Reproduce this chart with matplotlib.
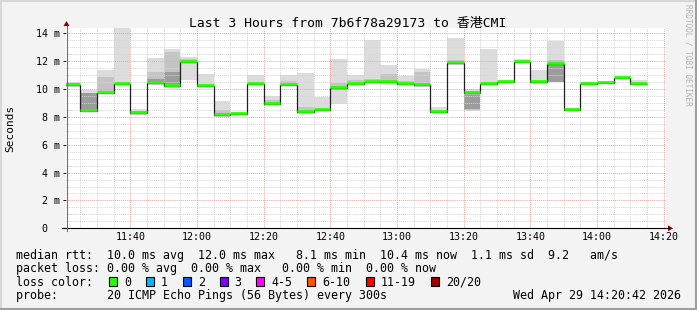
import matplotlib
matplotlib.use("Agg")
import matplotlib.pyplot as plt
import matplotlib.transforms as mtransforms
from matplotlib.patches import Rectangle, Polygon
import numpy as np

plt.rcParams['font.family'] = ['DejaVu Sans Mono', 'Noto Sans CJK SC']

# ---------------- data ----------------
title = "Last 3 Hours from 7b6f78a29173 to 香港CMI"
window_start = "11:20:42"
window_end = "14:20:42"
bar_starts = ["11:20", "11:25", "11:30", "11:35", "11:40", "11:45", "11:50", "11:55",
              "12:00", "12:05", "12:10", "12:15", "12:20", "12:25", "12:30", "12:35",
              "12:40", "12:45", "12:50", "12:55", "13:00", "13:05", "13:10", "13:15",
              "13:20", "13:25", "13:30", "13:35", "13:40", "13:45", "13:50", "13:55",
              "14:00", "14:05", "14:10"]
step_minutes = 5

# median rtt per 5-minute step (ms)
median = [10.27, 8.45, 9.71, 10.34, 8.28, 10.46, 10.19, 11.94, 10.19, 8.11,
          8.18, 10.36, 8.92, 10.27, 8.33, 8.49, 10.05, 10.36, 10.53, 10.48,
          10.36, 10.27, 8.35, 11.87, 9.71, 10.36, 10.48, 11.94, 10.48, 11.82,
          8.49, 10.36, 10.41, 10.77, 10.36]
# smoke: outer ping range (ms)
outer_lo = [10.15, 8.40, 9.65, 10.30, 8.16, 10.30, 10.10, 10.67, 10.15, 7.99,
            8.15, 10.30, 8.83, 10.25, 8.23, 8.45, 8.95, 10.30, 10.46, 10.30,
            10.30, 10.15, 8.30, 11.75, 8.42, 10.30, 10.45, 11.90, 10.39, 10.50,
            8.40, 10.35, 10.38, 10.70, 10.36]
outer_hi = [10.50, 9.90, 11.34, 14.50, 8.54, 12.25, 12.85, 12.30, 11.10, 9.12,
            8.25, 10.98, 9.48, 10.98, 11.12, 9.43, 12.15, 11.03, 13.50, 11.70,
            10.93, 11.46, 8.71, 13.69, 10.00, 12.85, 10.55, 12.18, 11.36, 13.45,
            8.64, 10.50, 10.45, 10.82, 10.68]
# smoke: middle ping range (ms)
mid_lo = [10.20, 8.42, 9.70, 10.32, 8.20, 10.40, 10.20, 11.90, 10.19, 8.05,
          8.18, 10.35, 8.88, 10.27, 8.30, 8.48, 9.95, 10.35, 10.50, 10.40,
          10.35, 10.20, 8.33, 11.80, 8.50, 10.35, 10.47, 11.93, 10.42, 10.50,
          8.45, 10.36, 10.40, 10.75, 10.36]
mid_hi = [10.40, 9.75, 10.86, 10.45, 8.45, 11.20, 12.66, 12.15, 10.30, 8.47,
          8.22, 10.45, 9.19, 10.55, 8.72, 8.60, 10.45, 10.65, 10.70, 11.10,
          10.60, 11.25, 8.45, 12.10, 9.70, 10.45, 10.50, 12.00, 10.60, 12.06,
          8.55, 10.40, 10.43, 10.79, 10.45]
# smoke: inner ping range (ms)
inner_lo = [10.27, 8.45, 9.71, 10.34, 8.28, 10.45, 10.27, 11.94, 10.19, 8.11,
            8.18, 10.36, 8.92, 10.27, 8.33, 8.49, 10.05, 10.36, 10.53, 10.48,
            10.36, 10.27, 8.35, 11.87, 8.60, 10.36, 10.48, 11.94, 10.48, 10.50,
            8.49, 10.36, 10.41, 10.77, 10.36]
inner_hi = [10.27, 9.71, 9.71, 10.34, 8.28, 10.75, 11.23, 11.94, 10.19, 8.11,
            8.18, 10.36, 8.92, 10.27, 8.33, 8.49, 10.05, 10.36, 10.53, 10.48,
            10.36, 10.27, 8.35, 11.87, 9.60, 10.36, 10.48, 11.94, 10.48, 11.82,
            8.49, 10.36, 10.41, 10.77, 10.36]

x_ticks = ["11:40", "12:00", "12:20", "12:40", "13:00", "13:20", "13:40", "14:00", "14:20"]
y_ticks = [0, 2, 4, 6, 8, 10, 12, 14]
y_tick_labels = ["0", "2 m", "4 m", "6 m", "8 m", "10 m", "12 m", "14 m"]
y_max = 14.36

loss_labels = ["0", "1", "2", "3", "4-5", "6-10", "11-19", "20/20"]
loss_colors = ["#26ff00", "#00b8ff", "#0059ff", "#7e00ff", "#ff00ff", "#ff5500", "#ff0000", "#a00000"]

legend_rtt = "median rtt:  10.0 ms avg  12.0 ms max   8.1 ms min  10.4 ms now  1.1 ms sd  9.2   am/s"
legend_loss = "packet loss: 0.00 % avg  0.00 % max   0.00 % min  0.00 % now"
legend_color = "loss color:"
legend_probe = "probe:       20 ICMP Echo Pings (56 Bytes) every 300s"
stamp = "Wed Apr 29 14:20:42 2026"
watermark = "RRDTOOL / TOBI OETIKER"


def to_min(s):
    p = [int(v) for v in s.split(":")]
    return p[0] * 60 + p[1] + (p[2] / 60 if len(p) > 2 else 0)


# ---------------- figure ----------------
W, H = 697, 310
fig = plt.figure(figsize=(W / 100, H / 100), dpi=100, facecolor="#f3f3f3")
ax = fig.add_axes([66 / W, 1 - 228.3 / H, 600 / W, 200 / H])
ax.set_facecolor("white")

xs = np.array([to_min(s) for s in bar_starts])
med = np.array(median)

ax.bar(xs, np.array(outer_hi) - np.array(outer_lo), bottom=outer_lo, width=step_minutes,
       align="edge", color="#dcdcdc", linewidth=0, zorder=1)
ax.bar(xs, np.array(mid_hi) - np.array(mid_lo), bottom=mid_lo, width=step_minutes,
       align="edge", color="#c4c4c4", linewidth=0, zorder=1.1)
ax.bar(xs, np.array(inner_hi) - np.array(inner_lo), bottom=inner_lo, width=step_minutes,
       align="edge", color="#9c9c9c", linewidth=0, zorder=1.2)

# grid (drawn over the smoke, like rrdtool)
x0, x1 = to_min(window_start), to_min(window_end)
major_x = [to_min(t) for t in x_ticks]
for v in np.arange(to_min("11:25"), x1, 5):
    if min(abs(v - m) for m in major_x) > 0.01:
        ax.axvline(v, color="#d4d4d4", lw=0.7, ls=(0, (1, 1)), zorder=1.5)
for v in np.arange(0.5, y_max, 0.5):
    if min(abs(v - m) for m in y_ticks) > 0.01:
        ax.axhline(v, color="#d4d4d4", lw=0.7, ls=(0, (1, 1)), zorder=1.5)
for v in major_x:
    ax.axvline(v, color="#f2a0a0", lw=0.7, ls=(0, (1, 1)), zorder=1.6)
for v in y_ticks[1:]:
    ax.axhline(v, color="#f2a0a0", lw=0.7, ls=(0, (1, 1)), zorder=1.6)

edges = np.append(xs, xs[-1] + step_minutes)
ax.stairs(med, edges, baseline=None, color="#202020", lw=0.9, zorder=3)
up = mtransforms.offset_copy(ax.transData, fig=fig, x=0, y=1, units="dots")
ax.hlines(med, xs, xs + step_minutes, colors=loss_colors[0], lw=2.0, zorder=4, transform=up)

ax.set_xlim(x0, x1)
ax.set_ylim(0, y_max)
for s in ax.spines.values():
    s.set_visible(False)
ax.set_xticks(major_x, x_ticks)
ax.set_yticks(y_ticks, [""] * len(y_ticks))
ax.tick_params(axis="x", length=0, pad=2.6, labelsize=7.2, colors="black")
ax.tick_params(axis="y", length=2, width=0.7, colors="black")

# y tick labels: rrdtool pads labels to a common width (monospace)
char_w = 0.6021 * 7.2 * 100 / 72
blend = mtransforms.blended_transform_factory(ax.transAxes, ax.transData)
for v, lab in zip(y_ticks, y_tick_labels):
    s = lab.ljust(3)
    tr = mtransforms.offset_copy(blend, fig=fig, x=-6 - len(s) * char_w, y=0, units="dots")
    ax.text(0, v, s, transform=tr, ha="left", va="center_baseline", fontsize=7.2, clip_on=False)

# ---------------- overlay for axes arrows & legend ----------------
ov = fig.add_axes([0, 0, 1, 1], zorder=10)
ov.set_xlim(0, W)
ov.set_ylim(H, 0)
ov.axis("off")

# axis lines with arrows
ov.plot([62, 668], [228.3, 228.3], color="black", lw=0.8)
ov.add_patch(Polygon([[668, 225.3], [673, 228.3], [668, 231.3]], closed=True, color="#8b0000", lw=0))
ov.plot([66.5, 66.5], [231, 26], color="#707070", lw=0.8)
ov.add_patch(Polygon([[63.5, 26], [66.5, 21], [69.5, 26]], closed=True, color="#8b0000", lw=0))

# frame
ov.plot([0, W], [1, 1], color="#d8d8d8", lw=1.5)
ov.plot([1, 1], [0, H], color="#d8d8d8", lw=1.5)
ov.plot([0, W], [H - 1, H - 1], color="#9e9e9e", lw=1.5)
ov.plot([W - 1, W - 1], [0, H], color="#9e9e9e", lw=1.5)

ov.text(348, 26.7, title, ha="center", va="baseline", fontsize=9.4, color="black")
ov.text(688, 4, watermark, rotation=270, ha="center", va="top", fontsize=5.6, color="#b4b4b4")
ov.text(10.5, 128, "Seconds", rotation=90, ha="center", va="center", fontsize=8.0, color="black")

fs = 8.37
ov.text(16, 258.5, legend_rtt, ha="left", va="baseline", fontsize=fs)
ov.text(16, 272, legend_loss, ha="left", va="baseline", fontsize=fs)
ov.text(16, 285.5, legend_color, ha="left", va="baseline", fontsize=fs)
ov.text(16, 299, legend_probe, ha="left", va="baseline", fontsize=fs)
ov.text(512.7, 299, stamp, ha="left", va="baseline", fontsize=fs)

sq_x = [109, 146, 183, 219.5, 256, 307, 366, 431]
for xx, lab, col in zip(sq_x, loss_labels, loss_colors):
    ov.add_patch(Rectangle((xx, 277.3), 8, 8.6, facecolor=col, edgecolor="black", lw=0.8))
    ov.text(xx + 15, 285.5, lab, ha="left", va="baseline", fontsize=fs)

fig.savefig("out.png", dpi=100, facecolor=fig.get_facecolor())
